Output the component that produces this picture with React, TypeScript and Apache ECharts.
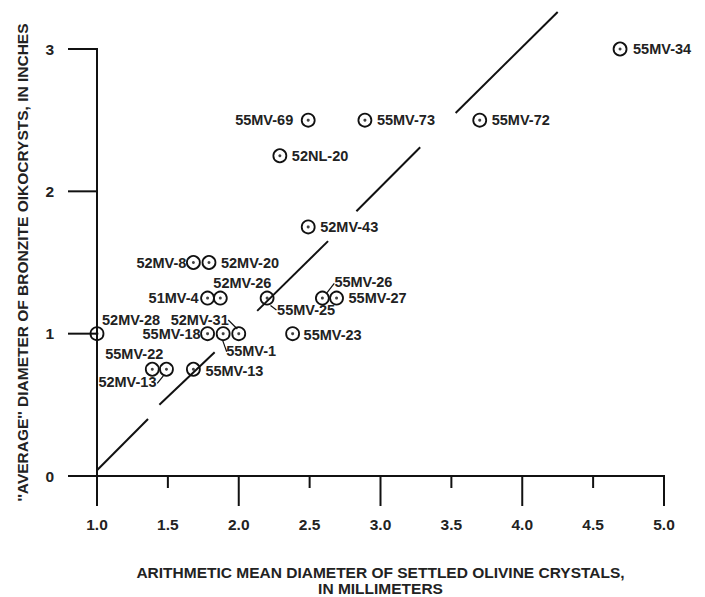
import { useEffect, useRef } from "react";
import * as echarts from "echarts";

// Sample identifiers
const sampleNames = [
  "52MV-28", "55MV-22", "52MV-13", "55MV-13", "52MV-8", "52MV-20", "51MV-4",
  "52MV-26", "55MV-18", "55MV-1", "52MV-31", "55MV-25", "55MV-23", "52MV-43",
  "55MV-26", "55MV-27", "52NL-20", "55MV-69", "55MV-73", "55MV-72", "55MV-34",
];
// Arithmetic mean diameter of settled olivine crystals (mm)
const olivineDiameter = [
  1.0, 1.39, 1.49, 1.68, 1.68, 1.79, 1.78,
  1.87, 1.78, 1.89, 2.0, 2.2, 2.38, 2.49,
  2.59, 2.69, 2.29, 2.49, 2.89, 3.7, 4.69,
];
// "Average" diameter of bronzite oikocrysts (inches)
const bronziteDiameter = [
  1.0, 0.75, 0.75, 0.75, 1.5, 1.5, 1.25,
  1.25, 1.0, 1.0, 1.0, 1.25, 1.0, 1.75,
  1.25, 1.25, 2.25, 2.5, 2.5, 2.5, 3.0,
];
// Hand-drawn broken trend line, segments in data units
const trendSegments = [
  [[1.0, 0.04], [1.36, 0.4]],
  [[1.44, 0.5], [1.83, 0.87]],
  [[2.13, 1.16], [2.63, 1.65]],
  [[2.83, 1.86], [3.28, 2.31]],
  [[3.53, 2.55], [4.25, 3.26]],
];
// Leader lines from points to their labels, in data units
const leaderSegments = [
  [[2.224, 1.198], [2.266, 1.166]],
  [[2.616, 1.279], [2.674, 1.354]],
  [[1.887, 0.951], [1.915, 0.873]],
  [[1.926, 1.096], [1.99, 1.033]],
  [[1.425, 0.651], [1.468, 0.703]],
];
const xTickValues = [1.0, 1.5, 2.0, 2.5, 3.0, 3.5, 4.0, 4.5, 5.0];
const xMajorTickValues = [1.0, 2.0, 3.0, 4.0, 5.0];
const yTickValues = [0, 1, 2, 3];

// label placement (pixel offsets from point centre)
const labelPlacement: Record<string, [string, number, number]> = {
  "52MV-28": ["left", 5, -14],
  "55MV-22": ["right", 11, -15],
  "52MV-13": ["right", -10, 13],
  "55MV-13": ["left", 12, 2],
  "52MV-8": ["right", -7, 0],
  "52MV-20": ["left", 12, 0],
  "51MV-4": ["right", -9, 0],
  "52MV-26": ["left", -7, -15],
  "55MV-18": ["right", -7, 0],
  "55MV-1": ["left", 3, 17],
  "52MV-31": ["right", -10, -14],
  "55MV-25": ["left", 10, 12],
  "55MV-23": ["left", 11, 1],
  "52MV-43": ["left", 12, 0],
  "55MV-26": ["left", 12, -16],
  "55MV-27": ["left", 12, 0],
  "52NL-20": ["left", 12, 0],
  "55MV-69": ["right", -15, 0],
  "55MV-73": ["left", 12, 0],
  "55MV-72": ["left", 12, 0],
  "55MV-34": ["left", 13, 0],
};

const INK = "#111";
const TEXT = "#222";
const FONT = "'Liberation Sans', Arial, sans-serif";

const xMin = xTickValues[0];
const xMax = xTickValues[xTickValues.length - 1];
const yMin = yTickValues[0];
const yMax = yTickValues[yTickValues.length - 1];

const MINOR_TICK = 12;
const MAJOR_TICK = 30;
const Y_TICK = 29;
const TICK_W = 2;

export default function App() {
  const ref = useRef<HTMLDivElement>(null);
  useEffect(() => {
    if (!ref.current) return;
    const chart = echarts.init(ref.current, undefined, { renderer: "svg" });
    const points = sampleNames.map((name, i) => {
      const [align, dx, dy] = labelPlacement[name];
      return {
        name,
        value: [olivineDiameter[i], bronziteDiameter[i]],
        label: { align, offset: [dx, dy] },
      };
    });
    chart.setOption({
      animation: false,
      backgroundColor: "#fff",
      grid: { left: 97, right: 41, top: 49, bottom: 121, outerBoundsMode: "none", containLabel: false },
      xAxis: {
        type: "value",
        min: xMin,
        max: xMax,
        interval: 0.5,
        position: "bottom",
        axisLine: { show: true, onZero: false, lineStyle: { color: INK, width: 2 } },
        axisTick: { show: false },
        axisLabel: {
          margin: 40,
          color: TEXT,
          fontFamily: FONT,
          fontSize: 15.5,
          fontWeight: "bold",
          formatter: (v: number) => v.toFixed(1),
        },
        splitLine: { show: false },
        name: "ARITHMETIC MEAN DIAMETER OF SETTLED OLIVINE CRYSTALS,\nIN MILLIMETERS",
        nameLocation: "middle",
        nameGap: 88,
        nameTextStyle: { color: TEXT, fontFamily: FONT, fontSize: 15.5, fontWeight: "bold", lineHeight: 16 },
      },
      yAxis: {
        type: "value",
        min: yMin,
        max: yMax,
        interval: 1,
        position: "left",
        axisLine: { show: true, onZero: false, lineStyle: { color: INK, width: 2 } },
        axisTick: { show: false },
        axisLabel: { margin: 43, color: TEXT, fontFamily: FONT, fontSize: 15.5, fontWeight: "bold" },
        splitLine: { show: false },
        name: "''AVERAGE'' DIAMETER OF BRONZITE OIKOCRYSTS, IN INCHES",
        nameLocation: "middle",
        nameGap: 67,
        nameTextStyle: { color: TEXT, fontFamily: FONT, fontSize: 15.5, fontWeight: "bold" },
      },
      series: [
        {
          type: "lines",
          coordinateSystem: "cartesian2d",
          polyline: false,
          silent: true,
          clip: false,
          lineStyle: { color: INK, width: 2, opacity: 1 },
          data: trendSegments.map((s) => ({ coords: s })),
          z: 2,
        },
        {
          type: "lines",
          coordinateSystem: "cartesian2d",
          polyline: false,
          silent: true,
          clip: false,
          lineStyle: { color: INK, width: 1.2, opacity: 1 },
          data: leaderSegments.map((s) => ({ coords: s })),
          z: 2,
        },
        {
          type: "scatter",
          symbol: "circle",
          symbolSize: 13,
          clip: false,
          itemStyle: { color: "rgba(255,255,255,0)", borderColor: INK, borderWidth: 1.8, opacity: 1 },
          label: {
            show: true,
            position: "inside",
            verticalAlign: "middle",
            formatter: "{b}",
            color: TEXT,
            fontFamily: FONT,
            fontSize: 14.5,
            fontWeight: "bold",
          },
          data: points,
          z: 3,
        },
        {
          type: "scatter",
          symbol: "circle",
          symbolSize: 3,
          clip: false,
          itemStyle: { color: INK },
          data: sampleNames.map((n, i) => [olivineDiameter[i], bronziteDiameter[i]]),
          z: 4,
        },
      ],
    });

    // axis ticks as thin filled rects, placed through the chart's own scales
    const toPx = (x: number, y: number) =>
      chart.convertToPixel({ xAxisIndex: 0, yAxisIndex: 0 }, [x, y]) as number[];
    const tickRect = (x: number, y: number, width: number, height: number) => ({
      type: "rect",
      silent: true,
      z: 100,
      shape: { x, y, width, height },
      style: { fill: INK },
    });
    const ticks: any[] = [];
    xTickValues.forEach((v) => {
      const [px, py] = toPx(v, yMin);
      const len = xMajorTickValues.includes(v) ? MAJOR_TICK : MINOR_TICK;
      ticks.push(tickRect(px - TICK_W / 2, py - TICK_W / 2, TICK_W, len + TICK_W / 2));
    });
    yTickValues.forEach((v) => {
      const [px, py] = toPx(xMin, v);
      ticks.push(tickRect(px - Y_TICK, py - TICK_W / 2, Y_TICK + TICK_W / 2, TICK_W));
    });
    chart.setOption({ graphic: { elements: ticks } });

    return () => chart.dispose();
  }, []);
  return (
    <div
      ref={ref}
      style={{ position: "absolute", left: 0, top: 0, width: 705, height: 597, background: "#fff" }}
    />
  );
}
